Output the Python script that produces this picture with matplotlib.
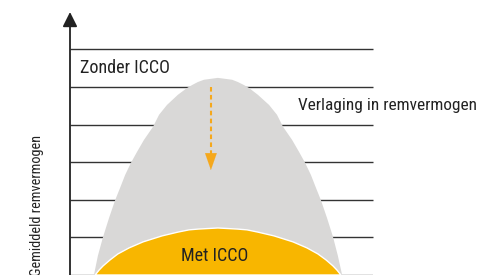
import matplotlib.pyplot as plt
from matplotlib import font_manager

# levels of the horizontal guide lines
levels = [1, 2, 3, 4, 5, 6]

# outline of the grey bell ("Zonder ICCO")
zonder_x = [0.79, 0.92, 1.09, 1.29, 1.49, 1.65, 1.82, 2.01, 2.21, 2.44, 2.74,
            2.94, 3.20, 3.56, 3.86, 4.03, 4.22, 4.42, 4.88,
            5.35, 5.54, 5.74, 5.91, 6.20, 6.57, 6.83, 7.03, 7.33, 7.56,
            7.76, 7.95, 8.12, 8.28, 8.48, 8.68, 8.84, 8.98]
zonder_y = [0.00, 0.51, 1.01, 1.52, 1.99, 2.31, 2.66, 2.98, 3.27, 3.59, 3.94,
            4.26, 4.52, 4.79, 4.97, 5.05, 5.13, 5.19, 5.24,
            5.19, 5.13, 5.05, 4.97, 4.79, 4.52, 4.26, 3.94, 3.59, 3.27,
            2.98, 2.66, 2.31, 1.99, 1.52, 1.01, 0.51, 0.00]

# outline of the yellow hump ("Met ICCO")
met_x = [0.83, 0.96, 1.09, 1.32, 1.58, 1.95, 2.41, 3.04, 3.56, 3.93, 4.22, 4.88,
         5.54, 5.84, 6.20, 6.73, 7.36, 7.82, 8.18, 8.45, 8.68, 8.81, 8.94]
met_y = [0.00, 0.13, 0.24, 0.40, 0.56, 0.72, 0.88, 1.04, 1.14, 1.20, 1.22, 1.25,
         1.22, 1.20, 1.14, 1.04, 0.88, 0.72, 0.56, 0.40, 0.24, 0.13, 0.00]

# arrow "verlaging"
arrow_x = 4.65
arrow_top = 5.0
arrow_tip = 2.79

names = set(f.name for f in font_manager.fontManager.ttflist)
fam = 'Liberation Sans'
for cand in ['Roboto Condensed', 'Liberation Sans Narrow', 'Archivo Narrow', 'Asap Condensed']:
    if cand in names:
        fam = cand
        break
plt.rcParams['font.family'] = [fam, 'DejaVu Sans']

grey = '#d9d8d7'
yellow = '#f8b600'
orange = '#f5a81c'
ink = '#222222'

fig = plt.figure(figsize=(4.8, 2.75), dpi=100)
ax = fig.add_axes([70/480, 0, 410/480, 1])
ax.set_xlim(0, 13.53)
ax.set_ylim(0, 7.31)
ax.axis('off')

# guide lines
ax.hlines(0, 0, 10, color='#dddddd', lw=1.2, zorder=1)
ax.hlines(levels, 0, 10, color='#333333', lw=1.0, zorder=1)

# shapes
ax.fill(zonder_x, zonder_y, color=grey, lw=0, zorder=2)
ax.fill(met_x, met_y, facecolor=yellow, edgecolor='white', lw=1.0, zorder=3)

# y axis with arrow
ax.annotate('', xy=(0, 6.99), xytext=(0, 0),
            arrowprops=dict(arrowstyle='-|>,head_length=0.4,head_width=0.2',
                            color=ink, lw=1.3, mutation_scale=22,
                            shrinkA=0, shrinkB=0), zorder=4)

# dashed orange arrow
ax.plot([arrow_x, arrow_x], [arrow_top, arrow_tip + 0.35], color=orange,
        lw=1.5, linestyle=(0, (2.2, 1.6)), zorder=4)
ax.annotate('', xy=(arrow_x, arrow_tip), xytext=(arrow_x, arrow_tip + 0.45),
            arrowprops=dict(arrowstyle='-|>,head_length=1.2,head_width=0.42',
                            color=orange, lw=0.1, mutation_scale=10,
                            shrinkA=0, shrinkB=0), zorder=4)

# texts
ax.text(0.33, 5.37, 'Zonder ICCO', fontsize=13, color=ink, va='baseline', zorder=5)
ax.text(7.52, 4.39, 'Verlaging in remvermogen', fontsize=12.4, color=ink,
        va='baseline', zorder=5)
ax.text(4.77, 0.37, 'Met ICCO', fontsize=13, color=ink, ha='center',
        va='baseline', zorder=5)
fig.text(37/480, 0.252, 'Gemiddeld remvermogen', fontsize=10.3, color=ink,
         rotation=90, ha='center', va='center')

fig.savefig('out.png', dpi=100)
